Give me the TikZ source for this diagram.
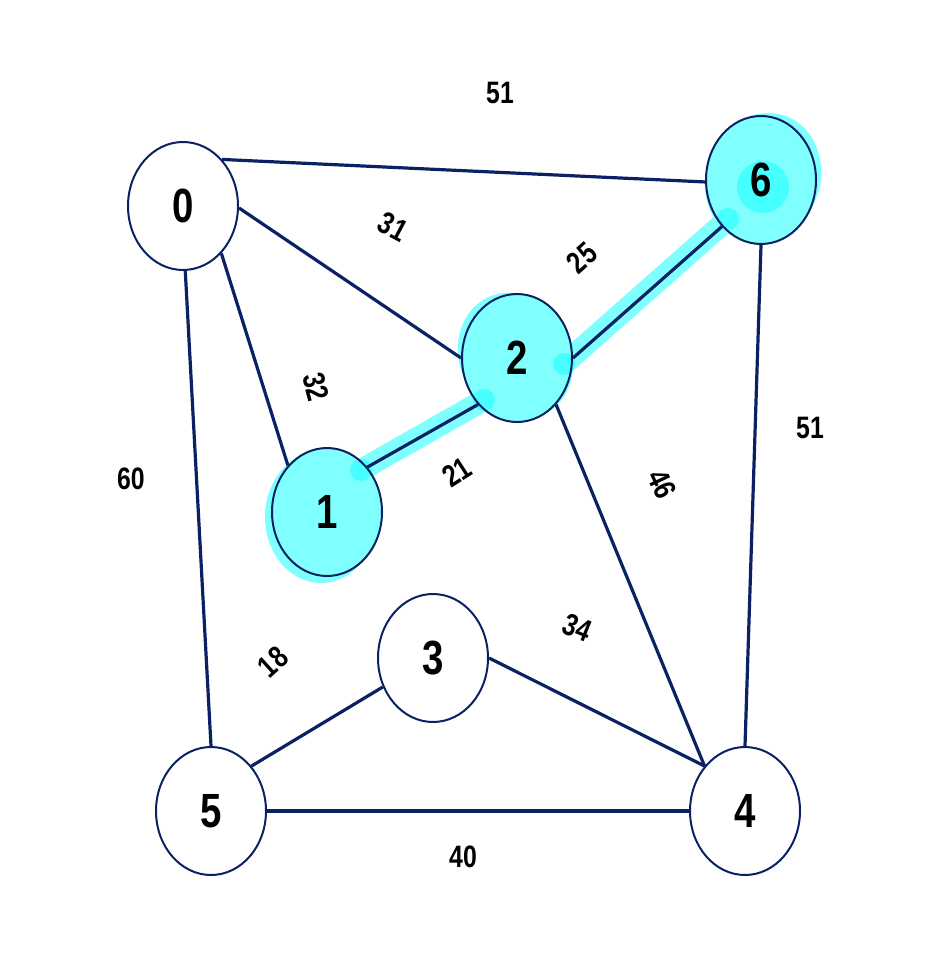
\documentclass[tikz,border=0pt]{standalone}
\usepackage{fontspec}
\setmainfont{Liberation Sans}[FakeStretch=0.8]
\usetikzlibrary{shapes.geometric}
\definecolor{navy}{RGB}{10,34,100}
\definecolor{hl}{RGB}{128,255,255}
\definecolor{hldeep}{RGB}{70,255,255}
\tikzset{
  vert/.style={ellipse, draw=navy, line width=2pt, minimum width=110pt, minimum height=128pt, inner sep=0pt, font=\bfseries\fontsize{48}{48}\selectfont},
  link/.style={navy, line width=3.2pt},
  wt/.style={font=\bfseries\fontsize{31}{31}\selectfont, inner sep=0pt},
  band/.style={hl, line width=22pt, line cap=round},
}
\begin{document}
\begin{tikzpicture}[x=1pt, y=-1pt]
\useasboundingbox (0,0) rectangle (935,965);
% centres
\coordinate (c0) at (183,206);
\coordinate (c1) at (327,512);
\coordinate (c2) at (517,358);
\coordinate (c3) at (433,658);
\coordinate (c4) at (745,811);
\coordinate (c5) at (211,811);
\coordinate (c6) at (761,180);
% halos and fills of highlighted nodes
\fill[hl] (321,517) ellipse (56 and 66);
\fill[hl, rotate around={25:(516,357)}] (516,356) ellipse (56 and 65);
\fill[hl, rotate around={-20:(763,178)}] (763,178) ellipse (57 and 66);
\fill[hl] (c1) ellipse (55 and 64);
\fill[hl] (c2) ellipse (55 and 64);
\fill[hl] (c6) ellipse (55 and 64);
% highlight band
\coordinate (b1) at (361,470);
\coordinate (b2) at (484,400);
\coordinate (b3) at (564,364);
\coordinate (b4) at (728,219);
\draw[band] (b1) -- (b2);
\draw[band] (b3) -- (b4);
\fill[hldeep] (b1) circle (11);
\fill[hldeep] (b2) circle (11);
\fill[hldeep] (b3) circle (11);
\fill[hldeep] (b4) circle (11);
\fill[hldeep] (763,187) circle (26);
% nodes
\node[vert] (n0) at (c0) {0};
\node[vert] (n1) at (c1) {1};
\node[vert] (n2) at (c2) {2};
\node[vert] (n3) at (c3) {3};
\node[vert] (n4) at (c4) {4};
\node[vert] (n5) at (c5) {5};
\node[vert] (n6) at (c6) {6};
% edges
\draw[link] (n0.50) -- (n6.182);
\draw[link] (n0.-2) -- (n2.180);
\draw[link] (n0.-51) -- (n1.130);
\draw[link] (n0.-88) -- (n5.90);
\draw[link] (n1.48) -- (n2.-130);
\draw[link] (n2.0) -- (n6.-130);
\draw[link] (n2.-50) -- (n4.132);
\draw[link] (n6.-90) -- (n4.90);
\draw[link] (n3.0) -- (n4.132);
\draw[link] (n3.210) -- (n5.48);
\draw[link] (n5.0) -- (n4.180);
% weights
\node[wt] (w06) at (500,93) {51};
\node[wt, rotate=-28] (w02) at (393,227) {31};
\node[wt, rotate=42] (w26) at (582,258) {25};
\node[wt, rotate=-75] (w01) at (316,387) {32};
\node[wt, rotate=33] (w12) at (457,472) {21};
\node[wt, rotate=-65] (w24) at (662,484) {46};
\node[wt] (w64) at (810,428) {51};
\node[wt] (w05) at (131,479) {60};
\node[wt, rotate=42] (w35) at (273,662) {18};
\node[wt, rotate=-22] (w34) at (577,628) {34};
\node[wt] (w54) at (463,857) {40};
\end{tikzpicture}
\end{document}
